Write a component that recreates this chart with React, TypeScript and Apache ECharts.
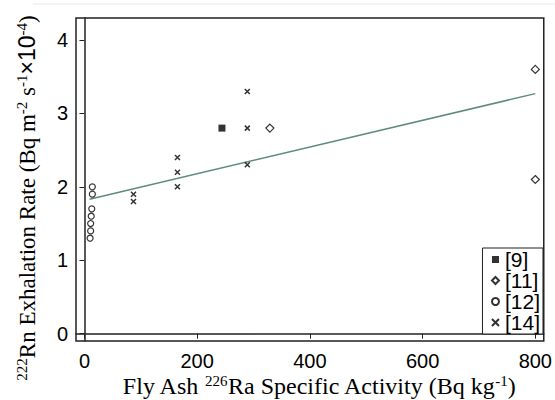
import React, { useEffect, useRef } from "react";
import * as echarts from "echarts";

const ref9: number[][] = [[244, 2.8]];
const ref11: number[][] = [[329, 2.8], [800, 3.6], [800, 2.1]];
const ref12: number[][] = [[14, 2.0], [14, 1.9], [13, 1.7], [12, 1.6], [11, 1.5], [11, 1.4], [10, 1.3]];
const ref14: number[][] = [[87, 1.9], [87, 1.8], [165, 2.4], [165, 2.2], [165, 2.0], [289, 3.3], [289, 2.8], [289, 2.3]];
const fitLine: number[][] = [[9, 1.83], [800, 3.27]];
const xTicks = [0, 200, 400, 600, 800];
const yTicks = [0, 1, 2, 3, 4];
const legendNames = ["[9]", "[11]", "[12]", "[14]"];

const serif = "'Liberation Serif', 'Times New Roman', serif";
const sans = "'Liberation Sans', Arial, sans-serif";
const crossPath = "path://M0,0L10,10M10,0L0,10";

export default function App() {
  const ref = useRef<HTMLDivElement>(null);
  useEffect(() => {
    if (!ref.current) return;
    const chart = echarts.init(ref.current, null, { renderer: "svg" });
    const supRich = {
      s: { fontSize: 15, fontFamily: serif, lineHeight: 10, verticalAlign: "top", fill: "#000" },
      x: { fontSize: 23, fontFamily: sans, lineHeight: 26, fill: "#000" },
    };
    chart.setOption({
      animation: false,
      backgroundColor: "#fff",
      grid: {
        left: 76, right: 8, top: 18, bottom: 59,
        show: true, borderColor: "#222", borderWidth: 1.5, backgroundColor: "transparent",
      },
      xAxis: {
        type: "value", min: -15, max: 815,
        splitLine: { show: false },
        axisLine: { show: true, lineStyle: { color: "#222", width: 1.5 } },
        axisTick: { show: true, customValues: xTicks, length: 5, lineStyle: { color: "#222" } },
        axisLabel: { customValues: xTicks, color: "#000", fontSize: 20, fontFamily: sans, margin: 10 },
      },
      yAxis: {
        type: "value", min: -0.1, max: 4.3,
        splitLine: { show: false },
        axisLine: { show: true, lineStyle: { color: "#222", width: 1.5 } },
        axisTick: { show: true, customValues: yTicks, length: 5, lineStyle: { color: "#222" } },
        axisLabel: { customValues: yTicks, color: "#000", fontSize: 20, fontFamily: sans, margin: 8 },
      },
      legend: {
        orient: "vertical", right: 12, top: 248,
        data: legendNames,
        borderColor: "#222", borderWidth: 1, backgroundColor: "#fff",
        padding: [1, 3, 1, 7], itemGap: 0, itemWidth: 7, itemHeight: 7,
        textStyle: { fontSize: 21, lineHeight: 20, fontFamily: sans, color: "#000", padding: [0, 0, 0, 1] },
      },
      series: [
        {
          type: "line", data: fitLine, symbol: "none", silent: true,
          lineStyle: { color: "#5e8c7c", width: 1.5 }, z: 1,
        },
        {
          name: "[9]", type: "scatter", data: ref9, symbol: "rect", symbolSize: 7,
          itemStyle: { color: "#000" },
        },
        {
          name: "[11]", type: "scatter", data: ref11, symbol: "diamond", symbolSize: 8,
          itemStyle: { color: "#fff", borderColor: "#000", borderWidth: 1.2 },
        },
        {
          name: "[12]", type: "scatter", data: ref12, symbol: "circle", symbolSize: 6,
          itemStyle: { color: "#fff", borderColor: "#000", borderWidth: 1.2 },
        },
        {
          name: "[14]", type: "scatter", data: ref14, symbol: crossPath, symbolSize: 5,
          itemStyle: { color: "none", borderColor: "#000", borderWidth: 1.5 },
        },
      ],
      graphic: [
        {
          type: "line", shape: { x1: 33, y1: 4, x2: 555, y2: 4 },
          style: { stroke: "#e3e9f2", lineWidth: 1 }, silent: true,
        },
        {
          type: "text", x: 319, y: 386,
          style: {
            text: "Fly Ash {s|226}Ra Specific Activity (Bq kg{s|-1})",
            fontFamily: serif, fontSize: 24, lineHeight: 26, fill: "#000",
            align: "center", verticalAlign: "middle", rich: supRich,
          },
        },
        {
          type: "text", x: 27, y: 198, rotation: Math.PI / 2,
          style: {
            text: "{s|222}Rn Exhalation Rate (Bq m{s|-2} s{s|-1}{x|×10}{s|-4})",
            fontFamily: serif, fontSize: 23, lineHeight: 26, fill: "#000",
            align: "center", verticalAlign: "middle", rich: supRich,
          },
        },
      ],
    });
    return () => chart.dispose();
  }, []);
  return (
    <div
      ref={ref}
      style={{ position: "absolute", left: 0, top: 0, width: 555, height: 400 }}
    />
  );
}
